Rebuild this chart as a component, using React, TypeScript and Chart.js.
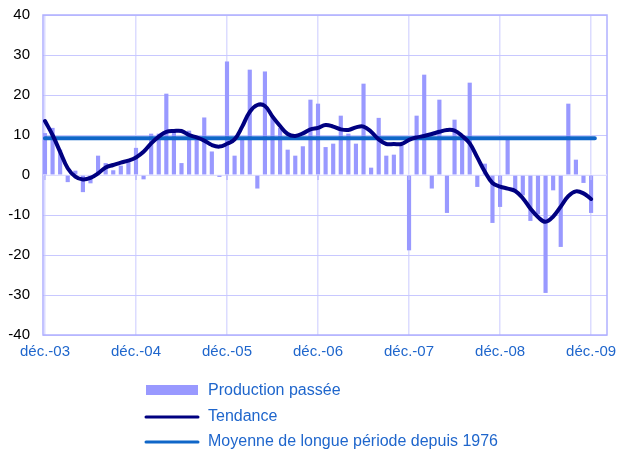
import { useEffect, useRef } from "react";
import { Chart, registerables } from "chart.js";

Chart.register(...registerables);

// Year labels shown every 12 months on the horizontal axis
const yearLabels = ["déc.-03", "déc.-04", "déc.-05", "déc.-06", "déc.-07", "déc.-08", "déc.-09"];

// Monthly values, déc.-03 .. déc.-09
const production = [
  10.4, 11.7, 6.25, -1.7, 1, -4.2, -2, 4.75, 2.9, 1.1, 2.25, 3.1,
  6.7, -1, 10.25, 10.25, 20.25, 10.4, 2.9, 11, 9.4, 14.3, 5.8, -0.4,
  28.3, 4.75, 8.75, 26.25, -3.3, 25.8, 14.6, 11.7, 6.25, 4.75, 7.1, 18.75,
  17.75, 6.9, 7.75, 14.75, 10.25, 7.75, 22.75, 1.75, 14.2, 4.75, 5, 7.25,
  -18.75, 14.75, 25, -3.3, 18.75, -9.4, 13.75, 9.2, 23, -2.9, 2.75, -11.9,
  -7.9, 8.75, -3.75, -5, -11.4, -9.75, -29.4, -3.75, -17.9, 17.75, 3.75, -1.9,
  -9.4,
];

const tendance = [
  13.5, 10, 5.8, 1.7, -0.4, -1.1, -0.7, 0.4, 1.9, 2.5, 3.1, 3.6,
  4.4, 5.8, 7.9, 9.6, 10.8, 11, 11, 10, 9.4, 8.6, 7.5, 7.1,
  7.8, 8.9, 12.1, 15.8, 17.5, 17.25, 14.6, 12.25, 10.25, 9.75, 10.4, 11.4,
  11.8, 12.5, 12.1, 11.4, 11.25, 11.9, 12.1, 10.8, 8.9, 7.75, 7.75, 7.75,
  8.8, 9.4, 9.75, 10.25, 10.8, 11.25, 11.1, 9.75, 7.9, 4.4, 0.8, -2,
  -2.9, -3.4, -4, -5.8, -8.4, -10.5, -11.7, -10.4, -7.9, -5.3, -4.1, -4.6,
  -6,
];

// Long-run average since 1976
const moyenne = 9.2;
const moyenneSpan = [0, 72.5];

const seriesNames = ["Production passée", "Tendance", "Moyenne de longue période depuis 1976"];

const FONT = "'Liberation Sans', Arial, sans-serif";
const BAR_COLOR = "#9999ff";
const TREND_COLOR = "#000080";
const MEAN_COLOR = "#0f66c8";
const TEXT_BLUE = "#1f66cc";

const decorations = {
  id: "decorations",
  beforeDatasetsDraw(chart: any) {
    const { ctx, chartArea: a } = chart;
    ctx.save();
    ctx.strokeStyle = "#b0b0ff";
    ctx.lineWidth = 1.5;
    ctx.strokeRect(a.left, a.top, a.right - a.left, a.bottom - a.top);
    ctx.restore();
  },
  afterDatasetDraw(chart: any, args: any) {
    if (args.index !== 0) return;
    const { ctx, chartArea: a, scales } = chart;
    const y0 = scales.y.getPixelForValue(0);
    ctx.save();
    // zero axis line, drawn over the bars
    ctx.strokeStyle = "#f2f2ff";
    ctx.lineWidth = 1;
    ctx.beginPath();
    ctx.moveTo(a.left, y0);
    ctx.lineTo(a.right, y0);
    ctx.stroke();
    // yearly tick marks under the zero axis
    ctx.strokeStyle = "#b8b8ff";
    ctx.lineWidth = 1.5;
    yearLabels.forEach((_, k) => {
      const x = scales.x.getPixelForValue(k * 12);
      ctx.beginPath();
      ctx.moveTo(x, y0);
      ctx.lineTo(x, y0 + 5);
      ctx.stroke();
    });
    ctx.restore();
  },
  afterDraw(chart: any) {
    const { ctx } = chart;
    const x0 = 146;
    const x1 = 198;
    const tx = 208;
    const rows = [391, 417, 442];
    ctx.save();
    ctx.fillStyle = BAR_COLOR;
    ctx.fillRect(x0, rows[0] - 6, x1 - x0, 10);
    ctx.lineCap = "round";
    ctx.lineWidth = 3;
    ctx.strokeStyle = TREND_COLOR;
    ctx.beginPath();
    ctx.moveTo(x0, rows[1]);
    ctx.lineTo(x1, rows[1]);
    ctx.stroke();
    ctx.strokeStyle = MEAN_COLOR;
    ctx.beginPath();
    ctx.moveTo(x0, rows[2]);
    ctx.lineTo(x1, rows[2]);
    ctx.stroke();
    ctx.fillStyle = TEXT_BLUE;
    ctx.font = `16px ${FONT}`;
    ctx.textBaseline = "middle";
    ctx.textAlign = "left";
    seriesNames.forEach((name, k) => ctx.fillText(name, tx, rows[k]));
    ctx.restore();
  },
};

export default function App() {
  const ref = useRef<HTMLCanvasElement>(null);

  useEffect(() => {
    document.body.style.margin = "0";
    const canvas = ref.current;
    if (!canvas) return;
    const chart = new Chart(canvas, {
      type: "bar",
      data: {
        datasets: [
          {
            type: "bar",
            label: seriesNames[0],
            data: production.map((v, i) => ({ x: i, y: v })),
            backgroundColor: BAR_COLOR,
            barThickness: 3.5,
            order: 3,
          },
          {
            type: "line",
            label: seriesNames[2],
            data: moyenneSpan.map((x) => ({ x, y: moyenne })),
            borderColor: MEAN_COLOR,
            borderWidth: 4,
            borderCapStyle: "round",
            pointRadius: 0,
            order: 2,
          },
          {
            type: "line",
            label: seriesNames[1],
            data: tendance.map((v, i) => ({ x: i, y: v })),
            borderColor: TREND_COLOR,
            borderWidth: 4,
            borderCapStyle: "round",
            borderJoinStyle: "round",
            pointRadius: 0,
            tension: 0.4,
            order: 1,
          },
        ] as any,
      },
      options: {
        responsive: false,
        animation: false,
        devicePixelRatio: 1,
        layout: { padding: { top: 15, right: 14, bottom: 88, left: 0 } },
        plugins: {
          legend: { display: false },
          tooltip: { enabled: false },
        },
        scales: {
          x: {
            type: "linear",
            offset: false,
            min: -0.26,
            max: 74.1,
            afterBuildTicks: (s: any) => {
              s.ticks = yearLabels.map((_, k) => ({ value: k * 12 }));
            },
            afterFit: (s: any) => {
              s.height = 30;
              s.paddingLeft = 0;
              s.paddingRight = 0;
            },
            ticks: {
              autoSkip: false,
              maxRotation: 0,
              padding: 8,
              color: TEXT_BLUE,
              font: { family: FONT, size: 15 },
              callback: (v: any) => yearLabels[Math.round(Number(v) / 12)] ?? "",
            },
            grid: { color: "#dcdcff", lineWidth: 1.5, drawTicks: false, offset: false },
            border: { display: false },
          },
          y: {
            min: -40,
            max: 40,
            afterFit: (s: any) => {
              s.width = 43;
              s.paddingTop = 0;
              s.paddingBottom = 0;
            },
            ticks: {
              stepSize: 10,
              padding: 13,
              color: "#000000",
              font: { family: FONT, size: 15 },
            },
            grid: { color: "#c8c8ff", lineWidth: 1, drawTicks: false },
            border: { display: false },
          },
        },
      },
      plugins: [decorations],
    });
    return () => chart.destroy();
  }, []);

  return (
    <div style={{ width: 621, height: 453, background: "#ffffff" }}>
      <canvas ref={ref} width={621} height={453} style={{ display: "block" }} />
    </div>
  );
}
